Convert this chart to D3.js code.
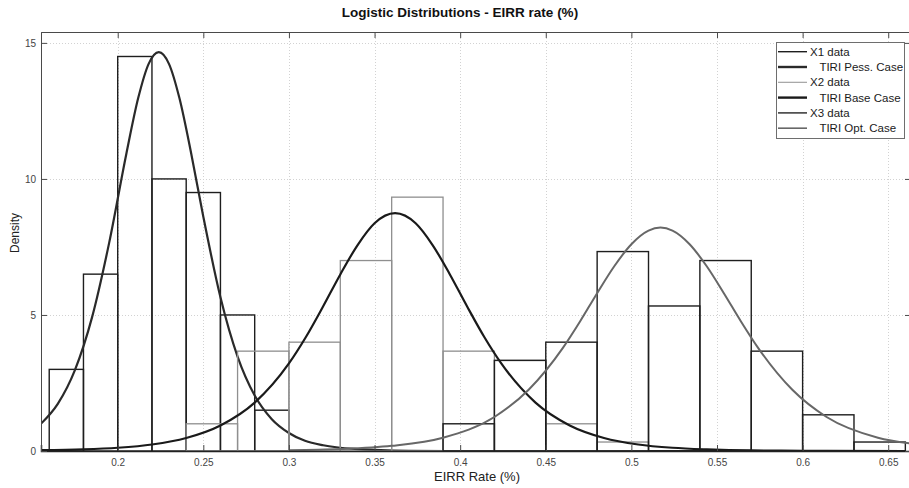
<!DOCTYPE html>
<html>
<head>
<meta charset="utf-8">
<script src="https://cdn.jsdelivr.net/npm/d3@7"></script>
<style>
  html, body { margin: 0; padding: 0; background: #fff; }
  svg { display: block; font-family: "Liberation Sans", Arial, sans-serif; }
</style>
</head>
<body>
<div id="chart"></div>
<script>
// histogram bins (density)
const x1Edges = [0.16, 0.18, 0.20, 0.22, 0.24, 0.26, 0.28, 0.30];
const x1Density = [3, 6.5, 14.5, 10, 9.5, 5, 1.5];

const x2Edges = [0.24, 0.27, 0.30, 0.33, 0.36, 0.39, 0.42, 0.45, 0.48, 0.51];
const x2Density = [1, 3.67, 4, 7, 9.33, 3.67, 3.33, 1, 0.33];

const x3Edges = [0.39, 0.42, 0.45, 0.48, 0.51, 0.54, 0.57, 0.60, 0.63, 0.66];
const x3Density = [1, 3.33, 4, 7.33, 5.33, 7, 3.67, 1.33, 0.33];

// fitted curves as [x, density]
const pessCurve = [[0.155, 0.99], [0.165, 1.73], [0.175, 2.97], [0.185, 4.91], [0.195, 7.65],
  [0.205, 10.91], [0.212, 12.98], [0.218, 14.22], [0.224, 14.66], [0.230, 14.22], [0.236, 12.98],
  [0.243, 10.91], [0.25, 8.61], [0.26, 5.65], [0.27, 3.47], [0.28, 2.04], [0.29, 1.17], [0.30, 0.66],
  [0.32, 0.21], [0.34, 0.07], [0.37, 0.01], [0.40, 0], [0.59, 0]];
const baseCurve = [[0.155, 0.03], [0.18, 0.06], [0.20, 0.12], [0.22, 0.24], [0.24, 0.48], [0.26, 0.94],
  [0.28, 1.78], [0.30, 3.22], [0.31, 4.2], [0.32, 5.32], [0.33, 6.49], [0.34, 7.56], [0.35, 8.37],
  [0.362, 8.74], [0.374, 8.37], [0.384, 7.56], [0.394, 6.49], [0.404, 5.32], [0.414, 4.2], [0.424, 3.22],
  [0.444, 1.78], [0.464, 0.94], [0.484, 0.48], [0.504, 0.24], [0.524, 0.12], [0.544, 0.06], [0.57, 0.02],
  [0.60, 0.01], [0.66, 0]];
const optCurve = [[0.30, 0.03], [0.33, 0.07], [0.36, 0.19], [0.39, 0.49], [0.42, 1.25], [0.44, 2.25],
  [0.46, 3.79], [0.47, 4.76], [0.48, 5.8], [0.49, 6.79], [0.50, 7.6], [0.51, 8.1], [0.517, 8.21],
  [0.524, 8.1], [0.534, 7.6], [0.544, 6.79], [0.554, 5.8], [0.564, 4.76], [0.574, 3.79], [0.594, 2.25],
  [0.614, 1.25], [0.644, 0.49], [0.664, 0.27]];

const xTicks = [0.2, 0.25, 0.3, 0.35, 0.4, 0.45, 0.5, 0.55, 0.6, 0.65];
const yTicks = [0, 5, 10, 15];

const legendLabels = ['X1 data', '   TIRI Pess. Case', 'X2 data', '   TIRI Base Case', 'X3 data', '   TIRI Opt. Case'];

const W = 909, H = 488;
const margin = { top: 32, right: -2, bottom: 37, left: 41 };

const x = d3.scaleLinear()
  .domain([0.1552, 0.6633])
  .range([margin.left, W - margin.right]);
const y = d3.scaleLinear()
  .domain([0, 15.4])
  .range([H - margin.bottom, margin.top]);

const svg = d3.select('#chart')
  .append('svg')
  .attr('width', W)
  .attr('height', H);

svg.append('defs').append('clipPath')
  .attr('id', 'plot')
  .append('rect')
  .attr('x', x.range()[0])
  .attr('y', y.range()[1])
  .attr('width', x.range()[1] - x.range()[0])
  .attr('height', y.range()[0] - y.range()[1]);

// grid
const grid = svg.append('g')
  .attr('stroke', '#d2d2d2')
  .attr('stroke-width', 1)
  .attr('stroke-dasharray', '1,2');
grid.selectAll('.gx')
  .data(xTicks)
  .join('line')
  .attr('x1', d => Math.round(x(d)) + 0.5)
  .attr('x2', d => Math.round(x(d)) + 0.5)
  .attr('y1', y.range()[1])
  .attr('y2', y.range()[0]);
grid.selectAll('.gy')
  .data(yTicks.filter(d => d > 0))
  .join('line')
  .attr('class', 'gy')
  .attr('x1', x.range()[0])
  .attr('x2', x.range()[1])
  .attr('y1', d => Math.round(y(d)) + 0.5)
  .attr('y2', d => Math.round(y(d)) + 0.5);

const plot = svg.append('g').attr('clip-path', 'url(#plot)');

function bins(edges, dens) {
  return dens.map((v, i) => ({ x0: edges[i], x1: edges[i + 1], v: v }));
}

function drawHist(data, color, width) {
  plot.append('g')
    .attr('fill', 'none')
    .attr('stroke', color)
    .attr('stroke-width', width)
    .selectAll('rect')
    .data(data)
    .join('rect')
    .attr('x', d => x(d.x0))
    .attr('y', d => y(d.v))
    .attr('width', d => x(d.x1) - x(d.x0))
    .attr('height', d => y(0) - y(d.v));
}

const line = d3.line()
  .x(d => x(d[0]))
  .y(d => y(d[1]))
  .curve(d3.curveMonotoneX);

function drawCurve(pts, color, width) {
  plot.append('path')
    .datum(pts)
    .attr('fill', 'none')
    .attr('stroke', color)
    .attr('stroke-width', width)
    .attr('stroke-linejoin', 'round')
    .attr('d', line);
}

// same order as the original plot calls
drawHist(bins(x1Edges, x1Density), '#1e1e1e', 1.4);
drawCurve(pessCurve, '#2a2a2a', 2.2);
drawHist(bins(x2Edges, x2Density), '#8f8f8f', 1.3);
drawCurve(baseCurve, '#1a1a1a', 2.2);
drawHist(bins(x3Edges, x3Density), '#1e1e1e', 1.4);
drawCurve(optCurve, '#676767', 2);

// axes box with inner ticks on all sides
const TK = 6;
const axisColor = '#4a4a4a';

svg.append('g')
  .attr('transform', `translate(0,${y(0)})`)
  .call(d3.axisBottom(x).tickValues(xTicks).tickSize(-TK).tickPadding(8).tickFormat(d3.format('')))
  .call(g => g.select('.domain').attr('stroke', '#222').attr('stroke-width', 1.5))
  .call(g => g.selectAll('.tick line').attr('stroke', axisColor))
  .call(g => g.selectAll('.tick text').attr('fill', '#444').attr('font-size', 10).attr('font-family', null));

svg.append('g')
  .attr('transform', `translate(0,${y.range()[1]})`)
  .call(d3.axisTop(x).tickValues(xTicks).tickSize(-TK).tickFormat(''))
  .call(g => g.select('.domain').attr('stroke', axisColor))
  .call(g => g.selectAll('.tick line').attr('stroke', axisColor));

svg.append('g')
  .attr('transform', `translate(${x.range()[0]},0)`)
  .call(d3.axisLeft(y).tickValues(yTicks).tickSize(-TK).tickPadding(5))
  .call(g => g.select('.domain').attr('stroke', axisColor))
  .call(g => g.selectAll('.tick line').attr('stroke', axisColor))
  .call(g => g.selectAll('.tick text').attr('fill', '#444').attr('font-size', 10).attr('font-family', null));

svg.append('g')
  .attr('transform', `translate(${x.range()[1]},0)`)
  .call(d3.axisRight(y).tickValues(yTicks).tickSize(-TK).tickFormat(''))
  .call(g => g.select('.domain').attr('stroke', axisColor))
  .call(g => g.selectAll('.tick line').attr('stroke', axisColor));

// titles
svg.append('text')
  .attr('x', 460)
  .attr('y', 17)
  .attr('text-anchor', 'middle')
  .attr('font-size', 13.5)
  .attr('font-weight', 'bold')
  .attr('fill', '#111')
  .text('Logistic Distributions - EIRR rate (%)');

svg.append('text')
  .attr('x', 477)
  .attr('y', 481)
  .attr('text-anchor', 'middle')
  .attr('font-size', 13)
  .attr('fill', '#222')
  .text('EIRR Rate (%)');

svg.append('text')
  .attr('transform', 'translate(19,233) rotate(-90)')
  .attr('text-anchor', 'middle')
  .attr('font-size', 12)
  .attr('fill', '#222')
  .text('Density');

// legend
const legendStyles = [
  { color: '#1e1e1e', w: 1.4 },
  { color: '#2a2a2a', w: 2.4 },
  { color: '#9a9a9a', w: 1.1 },
  { color: '#1a1a1a', w: 2.4 },
  { color: '#333', w: 1.5 },
  { color: '#676767', w: 1.6 }
];

const lg = svg.append('g').attr('transform', 'translate(776,42)');
lg.append('rect')
  .attr('x', 0.5)
  .attr('y', 0.5)
  .attr('width', 128)
  .attr('height', 96)
  .attr('fill', '#fff')
  .attr('stroke', '#6e6e6e');

const row = lg.selectAll('g.row')
  .data(legendLabels)
  .join('g')
  .attr('class', 'row')
  .attr('transform', (d, i) => `translate(0,${9.7 + i * 15.3})`);

row.append('line')
  .attr('x1', 2)
  .attr('x2', 31)
  .attr('stroke', (d, i) => legendStyles[i].color)
  .attr('stroke-width', (d, i) => legendStyles[i].w);

row.append('text')
  .attr('x', 34)
  .attr('dy', '0.35em')
  .attr('font-size', 11.5)
  .attr('fill', '#1a1a1a')
  .attr('xml:space', 'preserve')
  .style('white-space', 'pre')
  .text(d => d);
</script>
</body>
</html>
